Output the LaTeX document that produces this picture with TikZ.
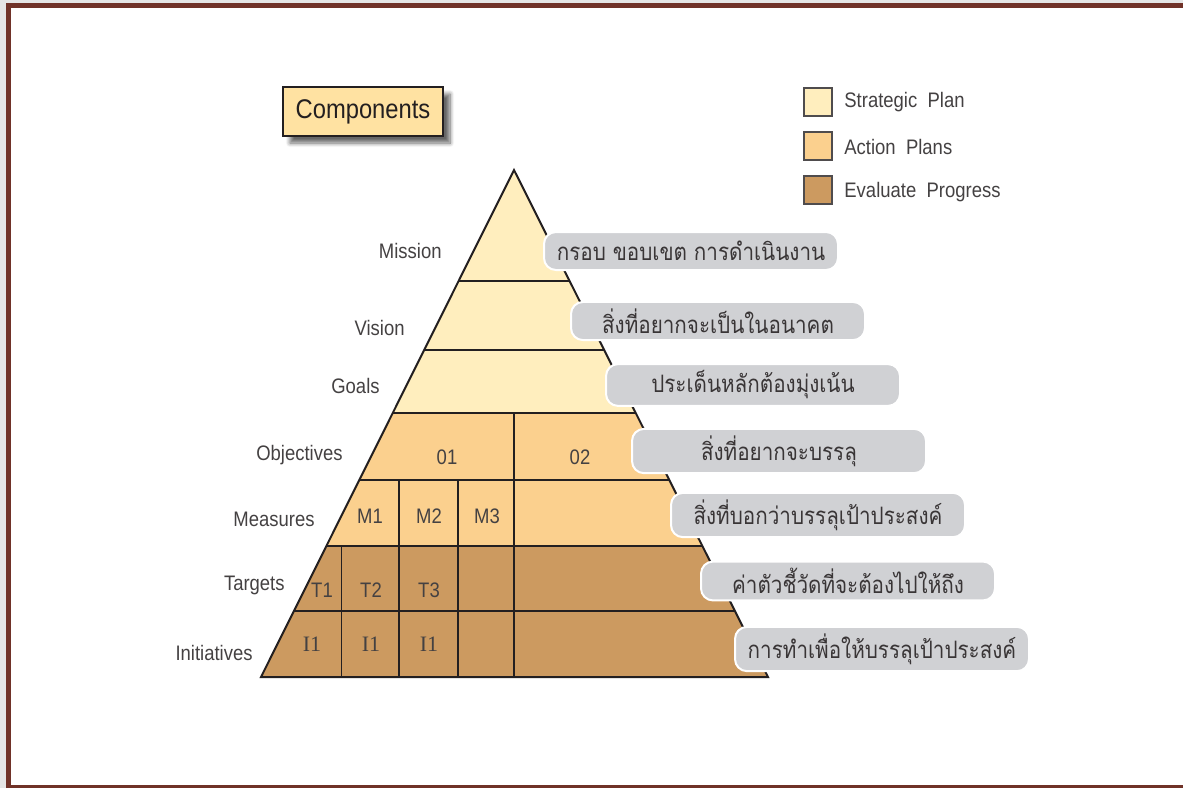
\documentclass[tikz,border=0pt]{standalone}
\usepackage{fontspec}
\setmainfont[FakeStretch=0.88]{Liberation Sans}
\newfontfamily\thaifont[Script=Thai,FakeStretch=0.86]{Loma}
\newfontfamily\romanfont{Liberation Serif}
\usepackage{tikz}
\usetikzlibrary{positioning}
\usetikzlibrary{shadows.blur}
\definecolor{stratcol}{RGB}{255,238,190}
\definecolor{actcol}{RGB}{251,208,142}
\definecolor{evalcol}{RGB}{204,154,96}
\definecolor{framecol}{RGB}{112,50,40}
\definecolor{bubblecol}{RGB}{208,209,212}
\definecolor{inkcol}{RGB}{35,31,32}
\definecolor{compcol}{RGB}{255,226,162}

\begin{document}
\begin{tikzpicture}[x=0.5pt,y=-0.5pt,
                level/.style = {anchor=east,inner sep=0pt,font=\fontsize{10.5}{12}\selectfont,text=inkcol!85},
                cell/.style = {font=\fontsize{10.5}{12}\selectfont,text=inkcol!85},
                bubble/.style = {fill=bubblecol,draw=white,line width=1pt,rounded corners=6pt,
                                 minimum width=147pt,minimum height=19pt,inner xsep=2pt,
                                 font=\thaifont\fontsize{12}{13}\selectfont,text=inkcol!90},
                key/.style = {draw=inkcol!80,line width=0.8pt,minimum size=14pt,inner sep=0pt},
                keytext/.style = {anchor=west,inner sep=0pt,font=\fontsize{10.5}{12}\selectfont,text=inkcol!85}]

                \useasboundingbox (0,0) rectangle (1183,788);

                % frame
                \fill[black!10] (0,0) rectangle (6,788);
                \fill[black!10] (6,0) rectangle (1183,3);
                \draw[framecol,line width=2.4pt] (8.5,788) -- (8.5,5.2) -- (1183,5.2);
                \draw[framecol,line width=1.7pt] (6,786.5) -- (1183,786.5);

                % title box
                \node[draw=inkcol,line width=1pt,fill=compcol,minimum width=80pt,minimum height=24.5pt,
                      font=\fontsize{13.5}{16}\selectfont,text=inkcol,
                      blur shadow={shadow xshift=3.5pt,shadow yshift=-3.5pt,shadow blur steps=8,shadow opacity=60}]
                      (comp) at (363,111.5) {Components};

                % legend
                \node[key,fill=stratcol] (k1) at (818,102) {};
                \node[key,fill=actcol] (k2) at (818,146) {};
                \node[key,fill=evalcol] (k3) at (818,190) {};
                \node[keytext] (t1) at (844,102) {Strategic~~Plan};
                \node[keytext] (t2) at (844,147) {Action~~Plans};
                \node[keytext] (t3) at (844,192) {Evaluate~~Progress};

                % pyramid tiers
                \fill[stratcol] (514,170) -- (635.7,413) -- (392.7,413) -- cycle;
                \fill[actcol] (392.7,413) -- (635.7,413) -- (702.4,546) -- (326.4,546) -- cycle;
                \fill[evalcol] (326.4,546) -- (702.4,546) -- (768,677) -- (261,677) -- cycle;

                \draw[inkcol,line width=1.25pt] (458.6,281) -- (569.6,281);
                \draw[inkcol,line width=1.25pt] (424.2,350) -- (604.2,350);
                \draw[inkcol,line width=1.25pt] (392.7,413) -- (635.7,413);
                \draw[inkcol,line width=1.25pt] (359.3,480) -- (669.3,480);
                \draw[inkcol,line width=1.25pt] (326.4,546) -- (702.4,546);
                \draw[inkcol,line width=1.25pt] (293.9,611) -- (734.9,611);

                \draw[inkcol,line width=0.8pt] (514,413) -- (514,677);
                \draw[inkcol,line width=0.8pt] (399,480) -- (399,677);
                \draw[inkcol,line width=0.8pt] (458,480) -- (458,677);
                \draw[inkcol,line width=0.8pt] (341.5,546) -- (341.5,677);

                \draw[inkcol,line width=1pt,line join=miter] (514,170) -- (768,677) -- (261,677) -- cycle;

                % cells
                \node[cell] (o1) at (447,457) {01};
                \node[cell] (o2) at (580,457) {02};
                \node[cell] (m1) at (370,516) {M1};
                \node[cell] (m2) at (429,516) {M2};
                \node[cell] (m3) at (487,516) {M3};
                \node[cell] (ta1) at (322,590) {T1};
                \node[cell] (ta2) at (371,590) {T2};
                \node[cell] (ta3) at (429,590) {T3};
                \node[cell,font=\romanfont\fontsize{11}{12}\selectfont] (i1) at (312,644) {I1};
                \node[cell,font=\romanfont\fontsize{11}{12}\selectfont] (i2) at (371,644) {I1};
                \node[cell,font=\romanfont\fontsize{11}{12}\selectfont] (i3) at (429,644) {I1};

                % level names
                \node[level] (mission) at (442,251) {Mission};
                \node[level] (vision) at (405,328) {Vision};
                \node[level] (goals) at (380,386) {Goals};
                \node[level] (objectives) at (343,455) {Objectives};
                \node[level] (measures) at (315,519) {Measures};
                \node[level] (targets) at (285,585) {Targets};
                \node[level] (initiatives) at (253,653) {Initiatives};

                % descriptions
                \node[bubble] (b1) at (691,251) {กรอบ ขอบเขต การดำเนินงาน};
                \node[bubble] (b2) at (718,321) {สิ่งที่อยากจะเป็นในอนาคต};
                \node[bubble] (b3) at (753,385) {ประเด็นหลักต้องมุ่งเน้น};
                \node[bubble] (b4) at (779,451) {สิ่งที่อยากจะบรรลุ};
                \node[bubble] (b5) at (818,515) {สิ่งที่บอกว่าบรรลุเป้าประสงค์};
                \node[bubble] (b6) at (848,581) {ค่าตัวชี้วัดที่จะต้องไปให้ถึง};
                \node[bubble] (b7) at (882,649) {การทำเพื่อให้บรรลุเป้าประสงค์};

            \end{tikzpicture}
\end{document}
